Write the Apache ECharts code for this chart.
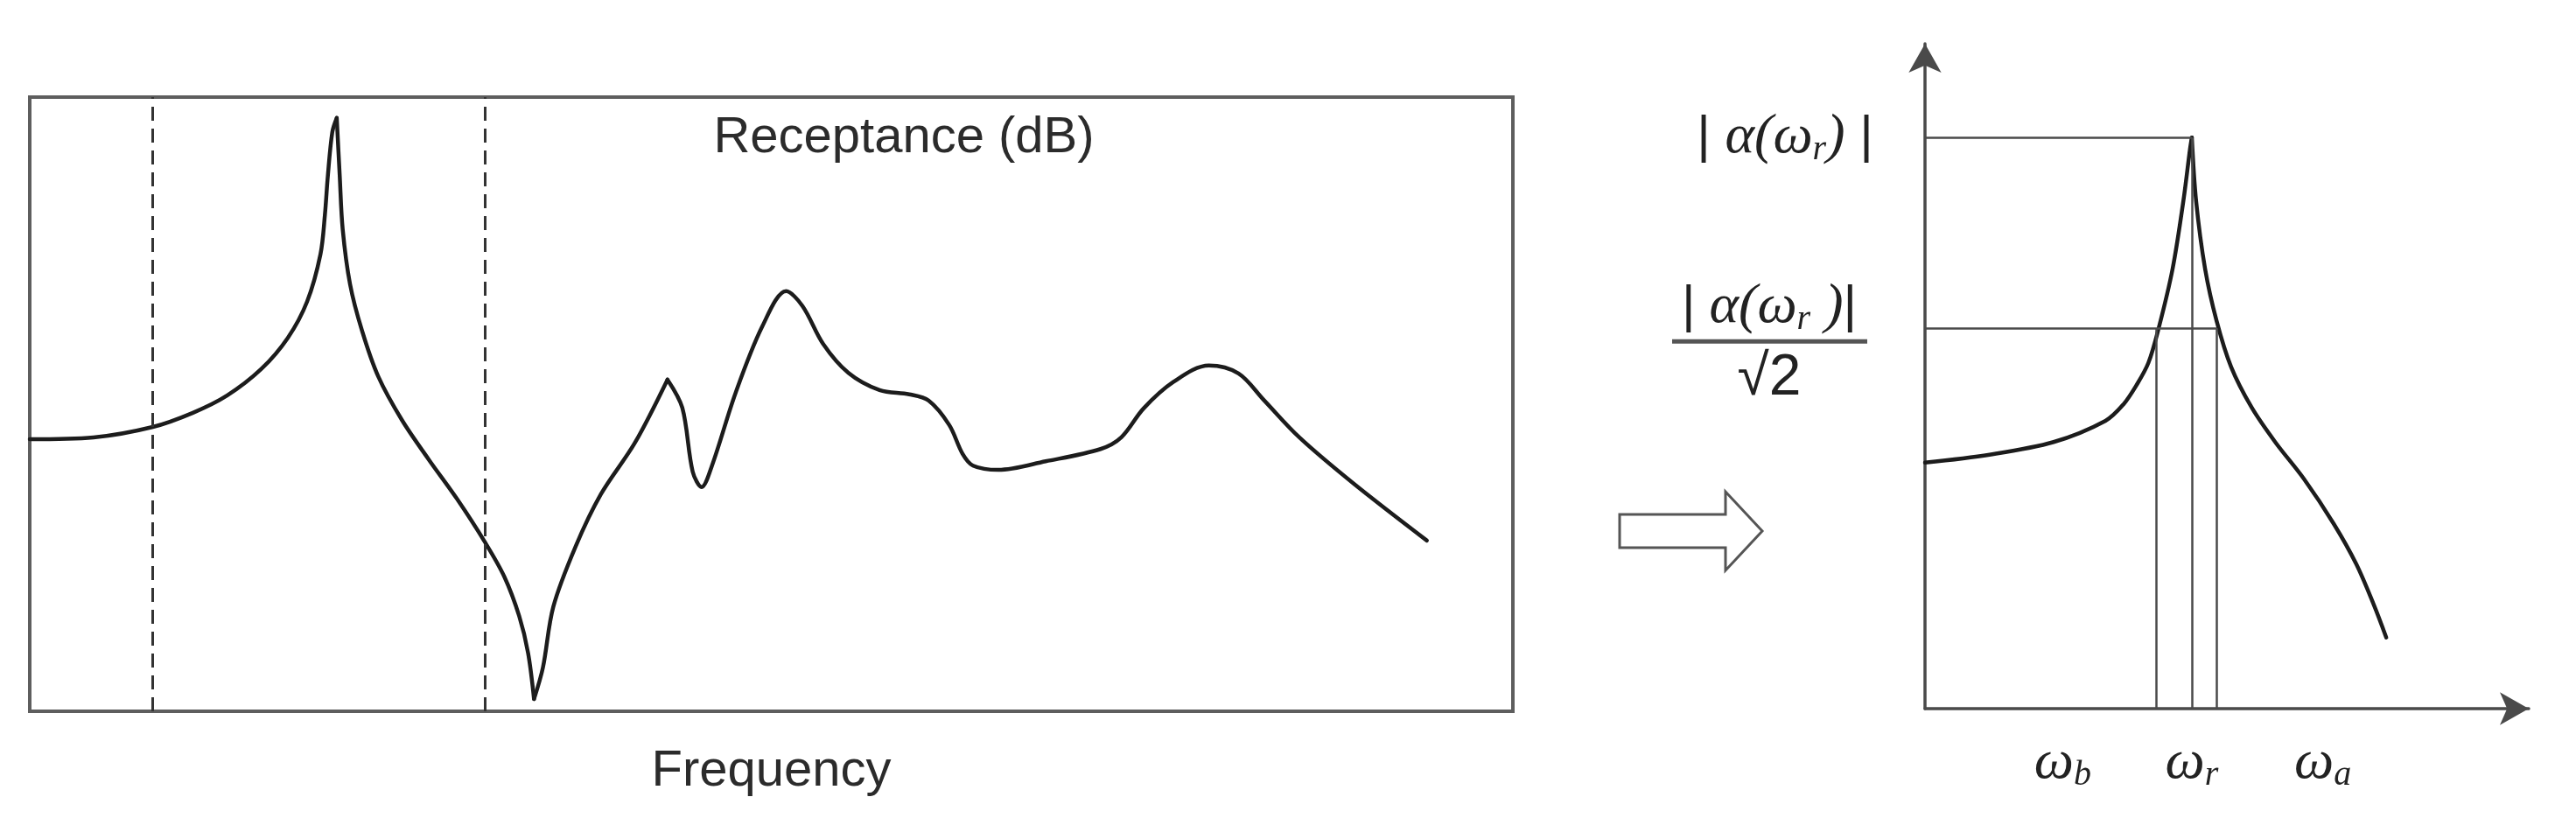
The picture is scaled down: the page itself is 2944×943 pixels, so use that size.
<!DOCTYPE html>
<html>
<head>
<meta charset="utf-8">
<title>Receptance and half-power bandwidth</title>
<script src="https://cdn.jsdelivr.net/npm/echarts@6/dist/echarts.min.js"></script>
<style>
  html, body { margin: 0; padding: 0; background: #fff; }
  #main { width: 2944px; height: 943px; }
</style>
</head>
<body>
<div id="main"></div>
<script>
// left panel: receptance curve, frequency / dB in arbitrary 0-100 units
var receptanceFreq = [0, 4.3, 8.3, 11.0, 13.3, 15.6, 17.4, 18.7, 19.6, 19.9, 20.1, 20.4, 20.7,
  20.9, 21.1, 21.6, 22.4, 23.5, 25.1, 26.9, 28.8, 30.7, 32.0, 33.0, 33.6, 34.0,
  34.6, 35.3, 36.8, 38.5, 40.8, 43.0, 44.0, 44.7, 45.3, 46.0, 47.6, 49.4, 51.0, 52.1, 53.5,
  55.2, 57.3, 59.3, 60.6, 62.0, 62.9, 63.6, 65.3, 68.5, 72.2, 73.6, 75.1, 77.1, 79.5, 81.5,
  83.2, 85.6, 89.3, 94.2];
var receptanceDb = [44.3, 44.6, 46.3, 48.6, 51.4, 55.7, 60.8, 66.7, 74.4, 80.8, 87.2, 94.3, 96.6,
  87.2, 78.5, 69.5, 62.0, 54.5, 47.4, 41.0, 34.6, 27.5, 21.9, 15.5, 9.5, 2.0,
  7.1, 17.0, 26.8, 35.3, 43.7, 54.0, 49.4, 39.0, 36.5, 40.0, 51.9, 62.7, 68.4, 66.0, 59.8,
  55.1, 52.3, 51.6, 50.6, 46.6, 41.9, 40.0, 39.3, 40.7, 42.7, 44.6, 49.3, 53.6, 56.3, 55.0,
  50.7, 44.6, 37.0, 27.8];
// indices of the sharp points (resonance, anti-resonance, small peak)
var receptanceCusps = [12, 25, 31];
var bandLines = [8.3, 30.7];

// right panel: one mode, |alpha| against omega
var modeFreq = [0, 10.7, 21.3, 29.9, 32.9, 35.0, 37.0, 38.7, 41.0, 42.8, 43.9, 44.2, 44.9,
  46.4, 48.3, 50.7, 54.1, 58.0, 62.8, 67.7, 71.4, 74.3, 76.4];
var modeAmp = [37.0, 38.2, 40.1, 43.3, 45.8, 48.6, 52.0, 57.2, 66.1, 76.4, 84.2, 85.9, 76.4,
  66.1, 58.3, 51.4, 45.3, 40.1, 34.5, 27.8, 21.8, 15.7, 10.7];
var modeCusps = [11];
var peakPoint = [44.2, 85.9];
var halfPowerLevel = 57.2;
var halfPowerFreq = [38.3, 48.3];
var omegaNames = ['b', 'r', 'a'];
var omegaLabelX = [22.8, 44.2, 65.9];

// split a curve at its cusps so the smoothing keeps them sharp
function pieces(xs, ys, cuts) {
  var out = [];
  var start = 0;
  cuts.concat([xs.length - 1]).forEach(function (end) {
    var seg = [];
    for (var i = start; i <= end; i++) seg.push([xs[i], ys[i]]);
    out.push(seg);
    start = end;
  });
  return out;
}

function curveSeries(segs, axisIdx) {
  return segs.map(function (seg) {
    return {
      type: 'line', xAxisIndex: axisIdx, yAxisIndex: axisIdx,
      data: seg, smooth: 0.33, showSymbol: false, silent: true,
      lineStyle: { color: '#1c1c1c', width: 4.5, cap: 'round', join: 'round' }
    };
  });
}

var chart = echarts.init(document.getElementById('main'));

var series = curveSeries(pieces(receptanceFreq, receptanceDb, receptanceCusps), 0)
  .concat(curveSeries(pieces(modeFreq, modeAmp, modeCusps), 1));

series[0].markLine = {
  silent: true, symbol: 'none', label: { show: false },
  lineStyle: { color: '#333', width: 3, type: [16, 9] },
  data: bandLines.map(function (v) { return { xAxis: v }; })
};

series.push({
  type: 'line', xAxisIndex: 1, yAxisIndex: 1, data: [], silent: true,
  markLine: {
    silent: true, symbol: 'none', label: { show: false },
    lineStyle: { color: '#4a4a4a', width: 2.5, type: 'solid' },
    data: [
      [{ coord: [0, peakPoint[1]] }, { coord: peakPoint }],
      [{ coord: [0, halfPowerLevel] }, { coord: [halfPowerFreq[1], halfPowerLevel] }],
      [{ coord: [halfPowerFreq[0], 0] }, { coord: [halfPowerFreq[0], halfPowerLevel] }],
      [{ coord: [peakPoint[0], 0] }, { coord: peakPoint }],
      [{ coord: [halfPowerFreq[1], 0] }, { coord: [halfPowerFreq[1], halfPowerLevel] }]
    ]
  }
});

var option = {
  animation: false,
  backgroundColor: '#fff',
  grid: [
    { left: 34, right: 1215, top: 111, bottom: 130, show: true,
      borderColor: '#5e5e5e', borderWidth: 4, backgroundColor: 'transparent' },
    { left: 2200, right: 54, top: 50, bottom: 133 }
  ],
  xAxis: [
    {
      gridIndex: 0, type: 'value', min: 0, max: 100,
      name: 'Frequency', nameLocation: 'middle', nameGap: 40,
      nameTextStyle: { fontFamily: 'Liberation Sans', fontSize: 58, color: '#2b2b2b' },
      axisLine: { show: false }, axisTick: { show: false },
      axisLabel: { show: false }, splitLine: { show: false }
    },
    {
      gridIndex: 1, type: 'value', min: 0, max: 100,
      axisLine: { show: true, symbol: ['none', 'arrow'], symbolSize: [28, 33],
        lineStyle: { color: '#4a4a4a', width: 3.5 } },
      axisTick: { show: false }, axisLabel: { show: false }, splitLine: { show: false }
    }
  ],
  yAxis: [
    {
      gridIndex: 0, type: 'value', min: 0, max: 100,
      axisLine: { show: false }, axisTick: { show: false },
      axisLabel: { show: false }, splitLine: { show: false }
    },
    {
      gridIndex: 1, type: 'value', min: 0, max: 100,
      axisLine: { show: true, symbol: ['none', 'arrow'], symbolSize: [28, 33],
        lineStyle: { color: '#4a4a4a', width: 3.5 } },
      axisTick: { show: false }, axisLabel: { show: false }, splitLine: { show: false }
    }
  ],
  series: series
};
chart.setOption(option);

// annotations placed from the axes
var ink = '#222';
var sans = '"Liberation Sans", Arial, sans-serif';
var serif = '"Liberation Serif", serif';
var mathRich = {
  n: { fontFamily: sans, fontSize: 60, lineHeight: 68, fill: ink },
  i: { fontFamily: serif, fontStyle: 'italic', fontSize: 64, lineHeight: 68, fill: ink },
  s: { fontFamily: serif, fontStyle: 'italic', fontSize: 40, lineHeight: 40,
       verticalAlign: 'bottom', fill: ink }
};

var origin = chart.convertToPixel({ gridIndex: 1 }, [0, 0]);
var pPeak = chart.convertToPixel({ gridIndex: 1 }, peakPoint);
var pHalf = chart.convertToPixel({ gridIndex: 1 }, [0, halfPowerLevel]);

var graphics = [
  {
    type: 'text', x: 1033, y: 158,
    style: { text: 'Receptance (dB)', font: '58px ' + sans, fill: '#2b2b2b',
      align: 'center', verticalAlign: 'middle' }
  },
  {
    type: 'polygon',
    shape: { points: [[1851, 588], [1972, 588], [1972, 562], [2014, 607],
      [1972, 652], [1972, 626], [1851, 626]] },
    style: { fill: '#fff', stroke: '#555', lineWidth: 3 }
  },
  {
    type: 'text', x: origin[0] - 160, y: pPeak[1],
    style: { text: '{n|| }{i|α(ω}{s|r}{i|)}{n| |}', rich: mathRich,
      align: 'center', verticalAlign: 'middle' }
  },
  {
    type: 'text', x: origin[0] - 178, y: pHalf[1] - 24,
    style: { text: '{n||}{i| α(ω}{s|r}{i| )}{n||}', rich: mathRich,
      align: 'center', verticalAlign: 'middle' }
  },
  {
    type: 'line',
    shape: { x1: origin[0] - 289, y1: pHalf[1] + 15, x2: origin[0] - 66, y2: pHalf[1] + 15 },
    style: { stroke: '#555', lineWidth: 5 }
  },
  {
    type: 'text', x: origin[0] - 178, y: pHalf[1] + 58,
    style: { text: '√2', font: '66px ' + sans, fill: ink,
      align: 'center', verticalAlign: 'middle' }
  }
];

omegaNames.forEach(function (nm, k) {
  var p = chart.convertToPixel({ gridIndex: 1 }, [omegaLabelX[k], 0]);
  graphics.push({
    type: 'text', x: p[0], y: origin[1] + 62,
    style: { text: '{i|ω}{s|' + nm + '}', rich: mathRich,
      align: 'center', verticalAlign: 'middle' }
  });
});

chart.setOption({ graphic: graphics });
</script>
</body>
</html>
